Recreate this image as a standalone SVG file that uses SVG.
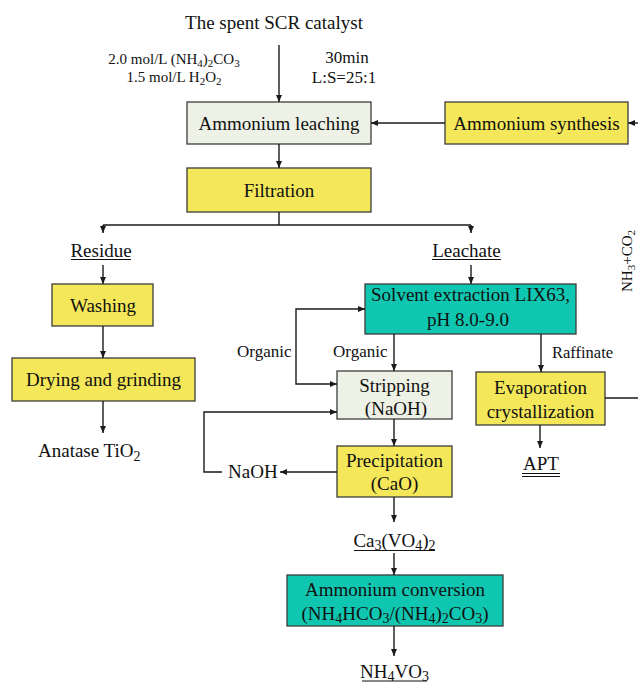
<svg xmlns="http://www.w3.org/2000/svg" width="638" height="684" viewBox="0 0 638 684">
  <style>
    text { font-family: "Liberation Serif", "Times New Roman", serif; fill: #111; }
    .lbl { font-size: 19px; text-anchor: middle; }
    .sm { font-size: 15px; text-anchor: middle; }
    .mid { font-size: 17px; }
    .yellow { fill: #F4E85A; stroke: #3c3c3c; stroke-width: 1.3; }
    .pale { fill: #EEF2E6; stroke: #3c3c3c; stroke-width: 1.3; }
    .teal { fill: #0FC7B0; stroke: #3c3c3c; stroke-width: 1.3; }
    .conn path, .conn line { fill: none; stroke: #1a1a1a; stroke-width: 1.4; }
    .arr { marker-end: url(#head); }
    .ul { stroke: #111; stroke-width: 1; }
  </style>
  <defs>
    <marker id="head" markerUnits="userSpaceOnUse" markerWidth="8" markerHeight="8" refX="7" refY="4" orient="auto">
      <path d="M0,1 L7,4 L0,7 Z" fill="#1a1a1a"/>
    </marker>
  </defs>

  <rect width="638" height="684" fill="#ffffff"/>

  <!-- feed and leaching conditions -->
  <g id="feed">
    <text class="lbl" x="274" y="29">The spent SCR catalyst</text>
  </g>
  <g id="reagents">
    <text class="sm" x="174" y="64">2.0 mol/L (NH<tspan font-size="11" dy="3">4</tspan><tspan dy="-3">)</tspan><tspan font-size="11" dy="3">2</tspan><tspan dy="-3">CO</tspan><tspan font-size="11" dy="3">3</tspan></text>
    <text class="sm" x="174" y="82">1.5 mol/L H<tspan font-size="11" dy="3">2</tspan><tspan dy="-3">O</tspan><tspan font-size="11" dy="3">2</tspan></text>
  </g>
  <g id="conditions">
    <text class="mid" x="347" y="63" text-anchor="middle">30min</text>
    <text class="mid" x="344" y="83" text-anchor="middle">L:S=25:1</text>
  </g>

  <!-- process nodes -->
  <g id="ammonium-leaching">
    <rect class="pale" x="187" y="102" width="184" height="42"/>
    <text class="lbl" x="279" y="129.5">Ammonium leaching</text>
  </g>
  <g id="ammonium-synthesis">
    <rect class="yellow" x="445" y="102" width="183" height="42"/>
    <text class="lbl" x="536.5" y="129.5">Ammonium synthesis</text>
  </g>
  <g id="filtration">
    <rect class="yellow" x="187" y="168" width="184" height="44"/>
    <text class="lbl" x="279" y="196.5">Filtration</text>
  </g>
  <g id="residue">
    <text class="lbl" x="101" y="257">Residue</text>
    <line class="ul" x1="71" y1="259.5" x2="131" y2="259.5"/>
  </g>
  <g id="leachate">
    <text class="lbl" x="466.5" y="257">Leachate</text>
    <line class="ul" x1="432" y1="259.5" x2="501" y2="259.5"/>
  </g>
  <g id="washing">
    <rect class="yellow" x="52" y="284" width="101" height="42"/>
    <text class="lbl" x="103" y="311.5">Washing</text>
  </g>
  <g id="drying-grinding">
    <rect class="yellow" x="12" y="358" width="183" height="43"/>
    <text class="lbl" x="103.5" y="386">Drying and grinding</text>
  </g>
  <g id="anatase">
    <text x="38" y="457" font-size="19">Anatase TiO<tspan font-size="14" dy="4">2</tspan></text>
  </g>
  <g id="solvent-extraction">
    <rect class="teal" x="365" y="284" width="211" height="50"/>
    <text class="lbl" x="470.5" y="301">Solvent extraction LIX63,</text>
    <text class="lbl" x="468" y="326">pH 8.0-9.0</text>
  </g>
  <g id="stripping">
    <rect class="pale" x="337" y="371" width="115" height="48"/>
    <text class="lbl" x="394.5" y="392">Stripping</text>
    <text class="lbl" x="396" y="415">(NaOH)</text>
  </g>
  <g id="evaporation">
    <rect class="yellow" x="476" y="372" width="129" height="53"/>
    <text class="lbl" x="540.5" y="394">Evaporation</text>
    <text class="lbl" x="540.5" y="418">crystallization</text>
  </g>
  <g id="apt">
    <text class="lbl" x="541" y="470">APT</text>
    <line class="ul" x1="522" y1="473.5" x2="560" y2="473.5"/>
    <line class="ul" x1="522" y1="476.5" x2="560" y2="476.5"/>
  </g>
  <g id="precipitation">
    <rect class="yellow" x="337" y="446" width="115" height="51"/>
    <text class="lbl" x="394.5" y="467">Precipitation</text>
    <text class="lbl" x="394.5" y="490">(CaO)</text>
  </g>
  <g id="naoh">
    <text x="228" y="478" font-size="19">NaOH</text>
  </g>
  <g id="calcium-vanadate">
    <text class="lbl" x="394.5" y="547">Ca<tspan font-size="14" dy="3">3</tspan><tspan dy="-3">(VO</tspan><tspan font-size="14" dy="3">4</tspan><tspan dy="-3">)</tspan><tspan font-size="14" dy="3">2</tspan></text>
    <line class="ul" x1="354" y1="550.5" x2="435" y2="550.5"/>
  </g>
  <g id="ammonium-conversion">
    <rect class="teal" x="287" y="575" width="216" height="51"/>
    <text class="lbl" x="395" y="596">Ammonium conversion</text>
    <text class="lbl" x="395" y="620">(NH<tspan font-size="14" dy="3">4</tspan><tspan dy="-3">HCO</tspan><tspan font-size="14" dy="3">3</tspan><tspan dy="-3">/(NH</tspan><tspan font-size="14" dy="3">4</tspan><tspan dy="-3">)</tspan><tspan font-size="14" dy="3">2</tspan><tspan dy="-3">CO</tspan><tspan font-size="14" dy="3">3</tspan><tspan dy="-3">)</tspan></text>
  </g>
  <g id="ammonium-metavanadate">
    <text class="lbl" x="394.5" y="678">NH<tspan font-size="14" dy="3">4</tspan><tspan dy="-3">VO</tspan><tspan font-size="14" dy="3">3</tspan></text>
    <line class="ul" x1="362" y1="681" x2="427" y2="681"/>
  </g>

  <!-- edge labels -->
  <g id="edge-labels">
    <text class="mid" x="237" y="357">Organic</text>
    <text class="mid" x="333" y="357">Organic</text>
    <text x="552" y="358" font-size="16.5">Raffinate</text>
    <text x="0" y="0" font-size="15" text-anchor="middle" transform="translate(632,261) rotate(-90)">NH<tspan font-size="11" dy="3">3</tspan><tspan dy="-3">+CO</tspan><tspan font-size="11" dy="3">2</tspan></text>
  </g>

  <!-- connectors -->
  <g id="connectors" class="conn">
    <path class="arr" d="M279,45 V102"/>
    <path class="arr" d="M445,123 H371"/>
    <path class="arr" d="M638,123 H628"/>
    <path class="arr" d="M279,144 V168"/>
    <path d="M279,212 V225 M103,225 H471"/>
    <path class="arr" d="M103,225 V233"/>
    <path class="arr" d="M471,225 V233"/>
    <path class="arr" d="M103,265 V284"/>
    <path class="arr" d="M103,326 V358"/>
    <path class="arr" d="M103,401 V433"/>
    <path class="arr" d="M471,265 V284"/>
    <path class="arr" d="M394,334 V371"/>
    <path class="arr" d="M296,346 V309 H365"/>
    <path class="arr" d="M296,346 V384 H337"/>
    <path class="arr" d="M541,334 V372"/>
    <path class="arr" d="M540,425 V448"/>
    <path d="M605,398 H638"/>
    <path class="arr" d="M394,419 V446"/>
    <path class="arr" d="M337,472 H280"/>
    <path class="arr" d="M222,472 H204 V412 H337"/>
    <path class="arr" d="M394,497 V522"/>
    <path class="arr" d="M394,553 V575"/>
    <path class="arr" d="M394,626 V656"/>
  </g>
</svg>
